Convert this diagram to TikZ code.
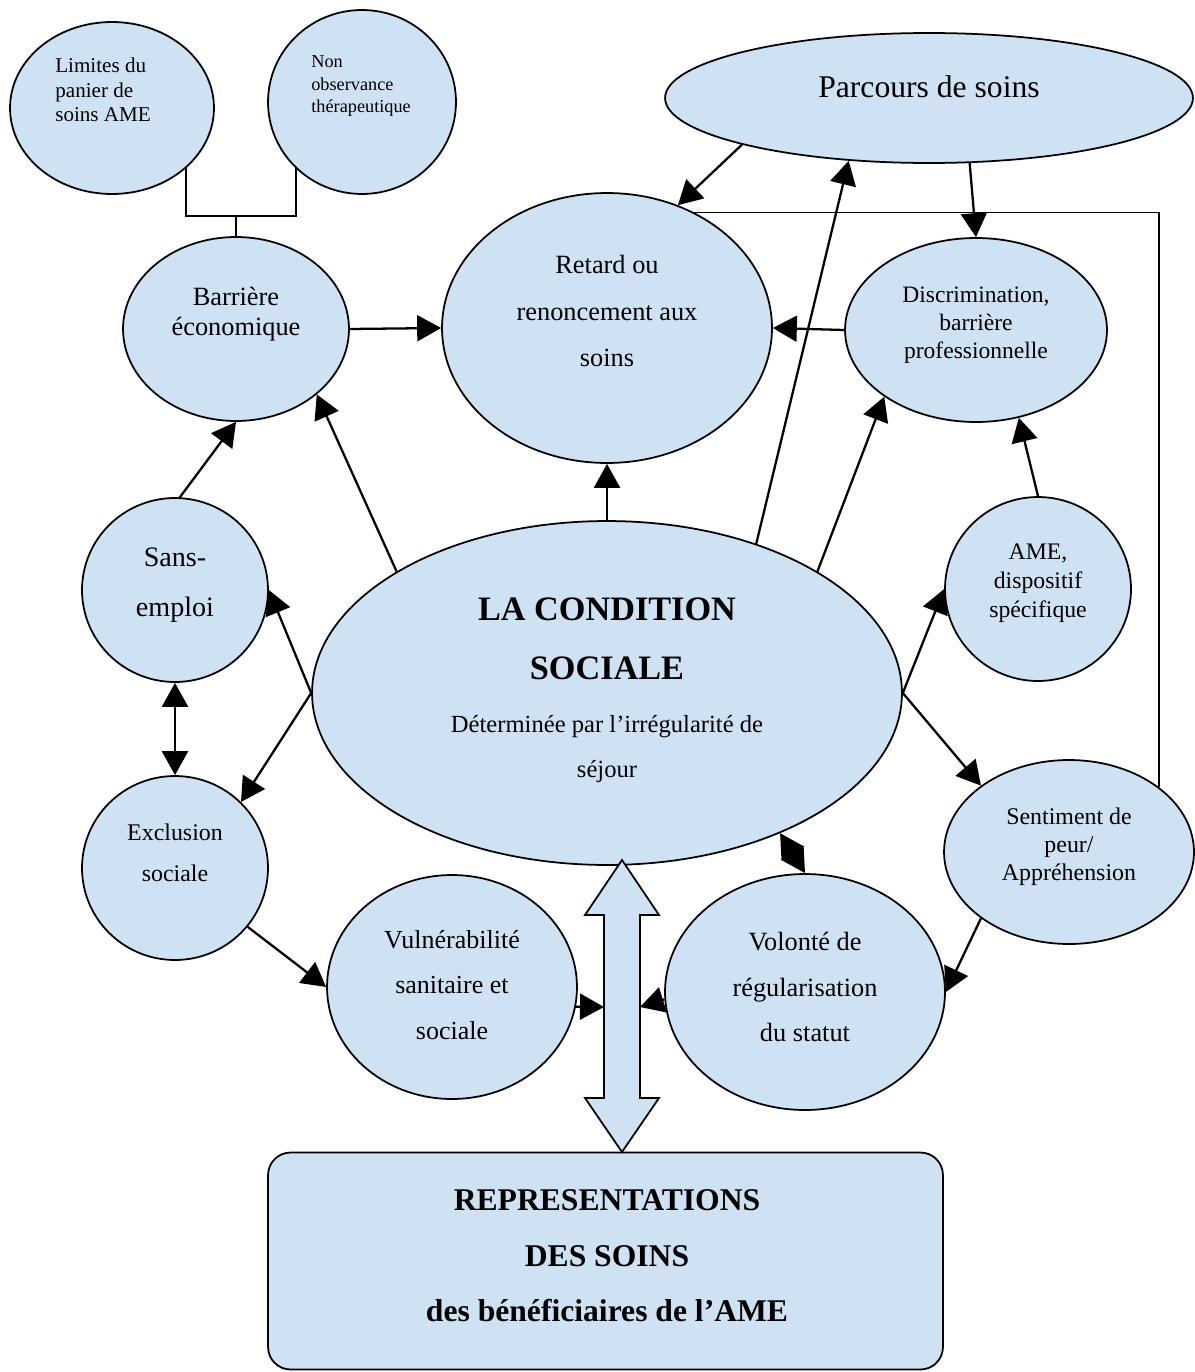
\documentclass[tikz,border=0pt]{standalone}
\usepackage{fontspec}
\setmainfont{Liberation Serif}
\usetikzlibrary{arrows.meta,shapes.geometric}
\definecolor{boxblue}{RGB}{207,226,243}
\newcommand\setfs[2]{\fontsize{#1}{#2}\selectfont}
\begin{document}
\begin{tikzpicture}[x=0.02cm,y=-0.02cm,
    bulle/.style={ellipse,draw,fill=boxblue,line width=1pt,inner sep=0pt},
    txt/.style={align=center,inner sep=0pt},
    arr/.style={line width=1.3pt,-{Triangle[length=0.48cm,width=0.52cm]}},
    darr/.style={line width=1.3pt,{Triangle[length=0.48cm,width=0.52cm]}-{Triangle[length=0.48cm,width=0.52cm]}},
    link/.style={line width=1pt}]
  \useasboundingbox (0,0) rectangle (1195,1372);
  \node[bulle,minimum width=4.08cm,minimum height=3.44cm] (lim) at (112,108) {};
  \node[txt,align=left,anchor=west,font=\setfs{12}{13.9}] (lim-t) at (55,90) {Limites du\\panier de\\soins AME};
  \node[bulle,minimum width=3.76cm,minimum height=3.68cm] (non) at (362,102) {};
  \node[txt,align=left,anchor=west,font=\setfs{10.4}{12.8}] (non-t) at (311,86) {Non\\observance\\thérapeutique};
  \node[bulle,minimum width=10.56cm,minimum height=2.6cm] (parc) at (929,98) {};
  \node[txt,font=\setfs{18}{22}] (parc-t) at (929,87) {Parcours de soins};
  \node[bulle,minimum width=6.6cm,minimum height=5.4cm] (ret) at (607,328) {};
  \node[txt,font=\setfs{15}{26.4}] (ret-t) at (607,311) {Retard ou\\renoncement aux\\soins};
  \node[bulle,minimum width=4.52cm,minimum height=3.68cm] (bar) at (236,329) {};
  \node[txt,font=\setfs{15}{17}] (bar-t) at (236,314) {Barrière\\économique};
  \node[bulle,minimum width=5.24cm,minimum height=3.68cm] (disc) at (976,330) {};
  \node[txt,font=\setfs{13.4}{15.9}] (disc-t) at (976,325) {Discrimination,\\barrière\\professionnelle};
  \node[bulle,minimum width=3.72cm,minimum height=3.68cm] (sans) at (175,590) {};
  \node[txt,font=\setfs{16}{28.4}] (sans-t) at (175,585) {Sans-\\emploi};
  \node[bulle,minimum width=3.72cm,minimum height=3.68cm] (ame) at (1038,589) {};
  \node[txt,font=\setfs{13.5}{16.4}] (ame-t) at (1038,583) {AME,\\dispositif\\spécifique};
  \node[bulle,minimum width=11.8cm,minimum height=6.88cm] (cond) at (607,693) {};
  \node[txt,font=\bfseries\setfs{19.5}{33.5}] (cond-t) at (607,639) {LA CONDITION\\SOCIALE};
  \node[txt,font=\setfs{14}{26}] (cond-s) at (607,749) {Déterminée par l’irrégularité de\\séjour};
  \node[bulle,minimum width=3.72cm,minimum height=3.68cm] (excl) at (175,868) {};
  \node[txt,font=\setfs{13.6}{23.2}] (excl-t) at (175,853) {Exclusion\\sociale};
  \node[bulle,minimum width=5cm,minimum height=3.68cm] (sent) at (1069,852) {};
  \node[txt,font=\setfs{13.6}{15.9}] (sent-t) at (1069,847) {Sentiment de\\peur/\\Appréhension};
  \node[bulle,minimum width=5cm,minimum height=4.48cm] (vul) at (452,987) {};
  \node[txt,font=\setfs{14.8}{26}] (vul-t) at (452,985) {Vulnérabilité\\sanitaire et\\sociale};
  \node[bulle,minimum width=5.6cm,minimum height=4.72cm] (vol) at (805,992) {};
  \node[txt,font=\setfs{15}{26}] (vol-t) at (805,987) {Volonté de\\régularisation\\du statut};
  \node[draw,fill=boxblue,line width=1pt,rounded corners=0.45cm,
    minimum width=13.5cm,minimum height=4.34cm] (rep) at (605.5,1261) {};
  \node[txt,font=\bfseries\setfs{18}{31.5}] (rep-t) at (607,1256) {REPRESENTATIONS\\DES SOINS\\des bénéficiaires de l’AME};
  \draw[fill=boxblue,line width=1pt] (622,860) -- (659,915) -- (640,915) -- (640,1098)
    -- (659,1098) -- (622,1152) -- (585,1098) -- (604,1098) -- (604,915) -- (585,915) -- cycle;
  \coordinate (shl) at (604,1007);
  \coordinate (shr) at (640,1007);
  \coordinate (fork) at (236,216);
  \draw[link] (lim.321) |- (fork) -| (non.225);
  \draw[link] (fork) -- (bar.north);
  \draw[link] (ret.53) -| (sent.36);
  \draw[arr] (parc.194) -- (ret.60);
  \draw[arr] (cond.45) -- (parc.218);
  \draw[arr] (parc.302) -- (disc.north);
  \draw[arr] (bar.east) -- (ret.west);
  \draw[arr] (disc.west) -- (ret.east);
  \draw[arr] (cond.north) -- (ret.south);
  \draw[arr] (cond.150) -- (bar.321);
  \draw[arr] (cond.30) -- (disc.216);
  \draw[arr] (sans.87) -- (bar.south);
  \draw[arr] (ame.north) -- (disc.296);
  \draw[arr] (cond.west) -- (sans.east);
  \draw[arr] (cond.west) -- (excl.45);
  \draw[darr] (sans.south) -- (excl.north);
  \draw[arr] (cond.east) -- (ame.west);
  \draw[arr] (cond.east) -- (sent.143);
  \draw[arr] (sent.217) -- (vol.east);
  \draw[darr] (vol.north) -- (cond.321);
  \draw[arr] (excl.321) -- (vul.west);
  \draw[arr] (vul.-9) -- (shl);
  \draw[arr] (vol.183) -- (shr);
\end{tikzpicture}
\end{document}
